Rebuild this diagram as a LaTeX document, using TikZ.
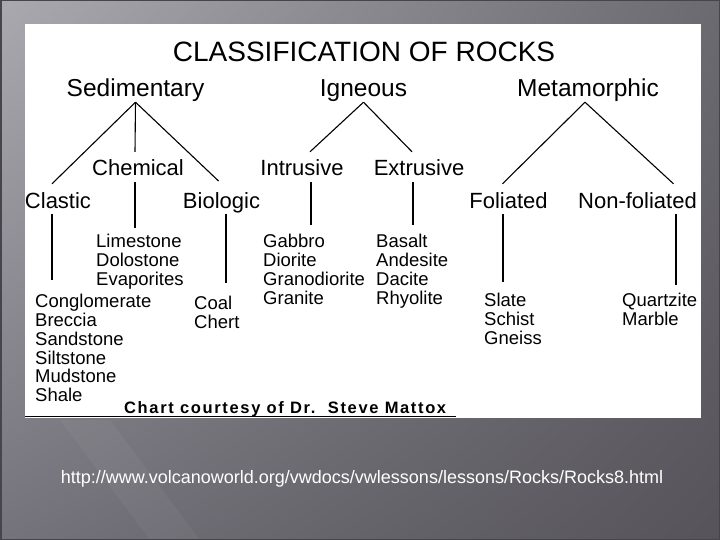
\documentclass[tikz,border=0pt]{standalone}
\usepackage{fontspec}
\setmainfont{Liberation Sans}
\usetikzlibrary{positioning,calc,shadings}
\definecolor{slidehi}{HTML}{ABA9B0}
\definecolor{slidemid}{HTML}{6C6A71}
\definecolor{slidelow}{HTML}{74727A}
\definecolor{slidedark}{HTML}{56545A}
\definecolor{slideedge}{HTML}{46454B}
\tikzstyle{title} = [font=\fontsize{28}{30}\selectfont, inner sep=0, anchor=base]
\tikzstyle{rock} = [font=\fontsize{24.5}{26}\selectfont, inner sep=0, text depth=5pt, anchor=base]
\tikzstyle{kind} = [font=\fontsize{22}{24}\selectfont, inner sep=0, text height=24pt, text depth=6pt, anchor=base]
\tikzstyle{list} = [font=\fontsize{18.5}{18.8}\selectfont, inner sep=0, align=left, anchor=north west]
\tikzstyle{link} = [draw, line width=1.1pt]

\begin{document}
\begin{tikzpicture}[x=1pt, y=-1pt]
    \useasboundingbox (0,0) rectangle (720,540);
    % Slide
    \shade [upper left=slidehi, upper right=slidemid, lower left=slidelow, lower right=slidedark] (0,0) rectangle (720,540);
    \fill [white, opacity=0.04] (60,420) -- (110,420) -- (200,540) -- (150,540) -- cycle;
    \draw [slideedge, line width=1.5pt] (0.75,0.75) rectangle (719.25,539.25);
    \fill [white] (25,24) rectangle (701,418);

    % Chart
    \node [title] (title) at (364,62) {CLASSIFICATION OF ROCKS};
    \node [rock] (sed) at (135.5,97) {Sedimentary};
    \node [rock] (ign) at (363.5,97) {Igneous};
    \node [rock] (meta) at (588,97) {Metamorphic};

    \node [kind] (clastic) at (58,208) {Clastic};
    \node [kind] (chem) at (138,176) {Chemical};
    \node [kind] (bio) at (221.5,208) {Biologic};
    \node [kind] (intr) at (302,176) {Intrusive};
    \node [kind] (extr) at (419,176) {Extrusive};
    \node [kind] (foli) at (508.5,208) {Foliated};
    \node [kind] (nonf) at (637.5,208) {Non-foliated};

    \node [list] (clastlist) at (35,294) {Conglomerate\\Breccia\\Sandstone\\Siltstone\\Mudstone\\Shale};
    \node [list] (chemlist) at (96,234) {Limestone\\Dolostone\\Evaporites};
    \node [list] (biolist) at (194,296) {Coal\\Chert};
    \node [list] (intrlist) at (263,234) {Gabbro\\Diorite\\Granodiorite\\Granite};
    \node [list] (extrlist) at (376,234) {Basalt\\Andesite\\Dacite\\Rhyolite};
    \node [list] (folilist) at (484,293) {Slate\\Schist\\Gneiss};
    \node [list] (nonflist) at (622,293) {Quartzite\\Marble};

    % Connections
    \draw [link] (sed.south) -- ([xshift=-6pt]clastic.north);
    \draw [link] (sed.south) -- ([xshift=-3pt]chem.north);
    \draw [link, shorten >=4pt] (sed.south) -- (bio.north);
    \draw [link] (ign.south) -- ([xshift=8pt]intr.north);
    \draw [link] (ign.south) -- ([xshift=-7pt]extr.north);
    \draw [link] ([xshift=-3pt]meta.south) -- ([xshift=-6pt]foli.north);
    \draw [link] ([xshift=-3pt]meta.south) -- ([xshift=36pt]nonf.north);

    \draw [link, shorten >=14pt] ([xshift=-6pt]clastic.south) -- ([xshift=-6pt]clastic.south |- clastlist.north);
    \draw [link, shorten >=6pt] ([xshift=-3pt]chem.south) -- ([xshift=-3pt]chem.south |- chemlist.north);
    \draw [link, shorten >=13pt] ([xshift=4.5pt]bio.south) -- ([xshift=4.5pt]bio.south |- biolist.north);
    \draw [link, shorten >=9pt] ([xshift=9pt]intr.south) -- ([xshift=9pt]intr.south |- intrlist.north);
    \draw [link, shorten >=9pt] ([xshift=-6pt]extr.south) -- ([xshift=-6pt]extr.south |- extrlist.north);
    \draw [link, shorten >=11pt] ([xshift=-5.5pt]foli.south) -- ([xshift=-5.5pt]foli.south |- folilist.north);
    \draw [link, shorten >=8pt] ([xshift=38.5pt]nonf.south) -- ([xshift=38.5pt]nonf.south |- nonflist.north);

    % Credit and source
    \node [anchor=base west, inner sep=0, font=\fontsize{16.5}{18}\selectfont\bfseries\addfontfeature{LetterSpace=10}] (credit) at (124,413) {Chart courtesy of Dr.\ \ Steve Mattox};
    \draw [line width=1.6pt] (25,416.5) -- (456,416.5);
    \node [anchor=base, inner sep=0, text=white, font=\fontsize{18}{20}\selectfont] (source) at (362,483) {http://www.volcanoworld.org/vwdocs/vwlessons/lessons/Rocks/Rocks8.html};
\end{tikzpicture}
\end{document}
